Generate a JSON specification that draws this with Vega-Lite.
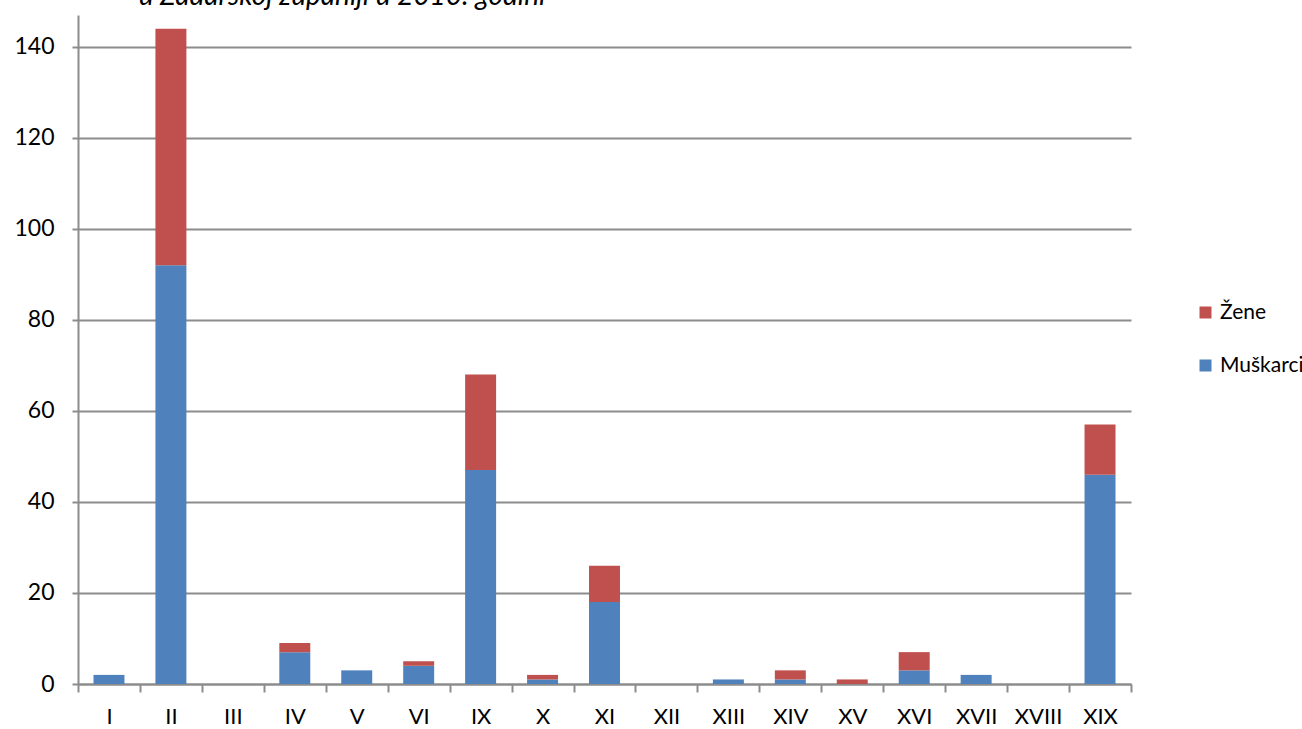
{
  "$schema": "https://vega.github.io/schema/vega-lite/v6.json",
  "autosize": "none",
  "width": 1053,
  "height": 669,
  "padding": {"left": 78, "top": 15, "right": 171, "bottom": 45},
  "background": "white",
  "title": {
    "text": "u Zadarskoj županiji u 2010. godini",
    "anchor": "middle",
    "align": "right",
    "dx": -59,
    "offset": 0,
    "dy": 18,
    "baseline": "alphabetic",
    "font": "Lato",
    "fontStyle": "italic",
    "fontWeight": "normal",
    "fontSize": 28,
    "color": "#000000"
  },
  "data": {
    "values": [
      {"kat": "I", "spol": "Muškarci", "broj": 2},
      {"kat": "II", "spol": "Muškarci", "broj": 92},
      {"kat": "II", "spol": "Žene", "broj": 52},
      {"kat": "III", "spol": "Muškarci", "broj": 0},
      {"kat": "IV", "spol": "Muškarci", "broj": 7},
      {"kat": "IV", "spol": "Žene", "broj": 2},
      {"kat": "V", "spol": "Muškarci", "broj": 3},
      {"kat": "VI", "spol": "Muškarci", "broj": 4},
      {"kat": "VI", "spol": "Žene", "broj": 1},
      {"kat": "IX", "spol": "Muškarci", "broj": 47},
      {"kat": "IX", "spol": "Žene", "broj": 21},
      {"kat": "X", "spol": "Muškarci", "broj": 1},
      {"kat": "X", "spol": "Žene", "broj": 1},
      {"kat": "XI", "spol": "Muškarci", "broj": 18},
      {"kat": "XI", "spol": "Žene", "broj": 8},
      {"kat": "XII", "spol": "Muškarci", "broj": 0},
      {"kat": "XIII", "spol": "Muškarci", "broj": 1},
      {"kat": "XIV", "spol": "Muškarci", "broj": 1},
      {"kat": "XIV", "spol": "Žene", "broj": 2},
      {"kat": "XV", "spol": "Žene", "broj": 1},
      {"kat": "XVI", "spol": "Muškarci", "broj": 3},
      {"kat": "XVI", "spol": "Žene", "broj": 4},
      {"kat": "XVII", "spol": "Muškarci", "broj": 2},
      {"kat": "XVIII", "spol": "Muškarci", "broj": 0},
      {"kat": "XIX", "spol": "Muškarci", "broj": 46},
      {"kat": "XIX", "spol": "Žene", "broj": 11}
    ]
  },
  "mark": {"type": "bar", "width": {"band": 0.5}},
  "encoding": {
    "x": {
      "field": "kat",
      "type": "nominal",
      "sort": ["I","II","III","IV","V","VI","IX","X","XI","XII","XIII","XIV","XV","XVI","XVII","XVIII","XIX"],
      "scale": {"paddingInner": 0, "paddingOuter": 0},
      "axis": {
        "title": null,
        "labelAngle": 0,
        "tickBand": "extent",
        "tickSize": 8,
        "tickWidth": 2,
        "tickColor": "#8c8c8c",
        "domainColor": "#8c8c8c",
        "domainWidth": 2,
        "labelFont": "Lato",
        "labelFontSize": 22,
        "labelColor": "#000000",
        "labelPadding": 14,
        "grid": false
      }
    },
    "y": {
      "field": "broj",
      "type": "quantitative",
      "stack": "zero",
      "scale": {"domain": [0, 147], "nice": false, "zero": true},
      "axis": {
        "title": null,
        "values": [0, 20, 40, 60, 80, 100, 120, 140],
        "tickSize": 6,
        "tickWidth": 2,
        "tickColor": "#8c8c8c",
        "domainColor": "#8c8c8c",
        "domainWidth": 2,
        "grid": true,
        "gridColor": "#8c8c8c",
        "gridWidth": 2,
        "labelFont": "Lato",
        "labelFontSize": 23,
        "labelColor": "#000000",
        "labelPadding": 18
      }
    },
    "color": {
      "field": "spol",
      "type": "nominal",
      "scale": {"domain": ["Žene", "Muškarci"], "range": ["#C0504D", "#4F81BD"]},
      "legend": {
        "title": null,
        "orient": "none",
        "legendX": 1117,
        "legendY": 287,
        "symbolType": "square",
        "symbolSize": 144,
        "symbolStrokeWidth": 0,
        "labelFont": "Lato",
        "labelFontSize": 21,
        "labelColor": "#000000",
        "labelOffset": 4,
        "labelLimit": 200,
        "rowPadding": 31
      }
    },
    "order": {"field": "spol", "sort": "ascending"}
  },
  "config": {"view": {"stroke": null}}
}
